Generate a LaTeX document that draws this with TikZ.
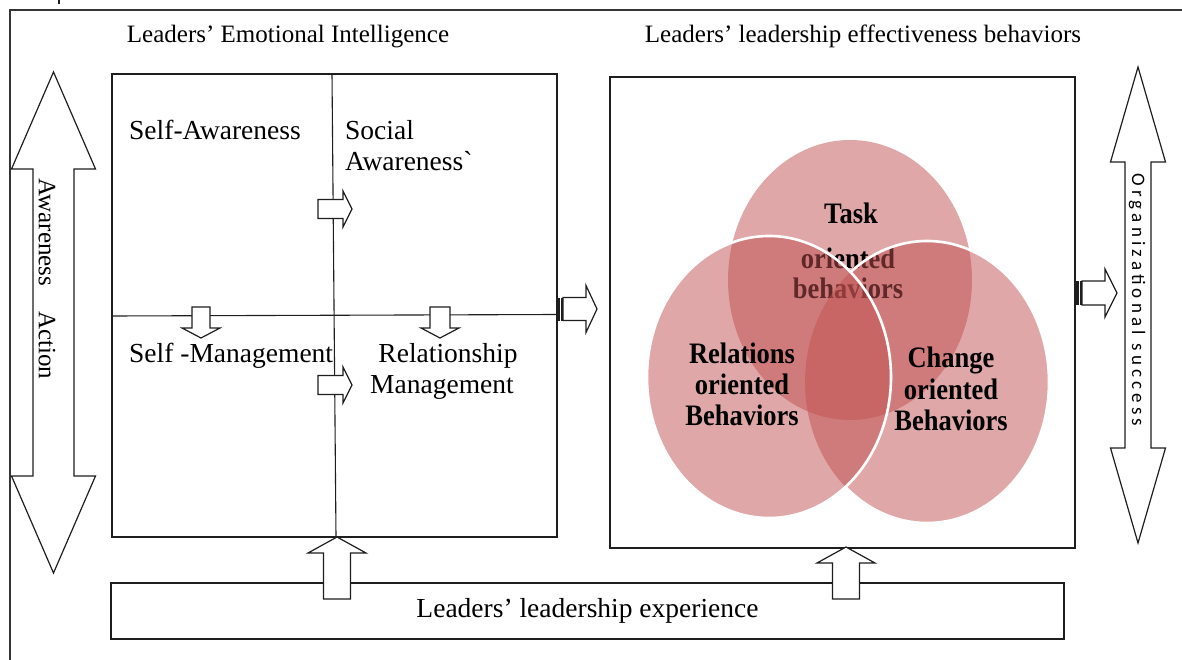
\documentclass[tikz,border=0pt]{standalone}
\usepackage{fontspec}
\setmainfont{Liberation Serif}
\newfontfamily\spacedsans[LetterSpace=22]{Carlito}
\definecolor{venn}{RGB}{192,80,80}
\definecolor{ink}{RGB}{30,30,30}
\begin{document}
\begin{tikzpicture}[x=1pt,y=-1pt,
  frameline/.style={draw=ink!90, line width=1.8pt},
  box/.style={draw=ink, line width=1.2pt, inner sep=0pt},
  divider/.style={draw=ink, line width=1.1pt},
  arrowline/.style={draw=ink, line width=1.2pt, fill=white, line join=miter},
  txt/.style={font=\fontsize{25}{30}\selectfont, inner sep=0pt},
  bigtxt/.style={font=\fontsize{27.5}{32}\selectfont, inner sep=0pt},
  venntxt/.style={font=\bfseries\fontsize{26.5}{30}\selectfont, inner sep=0pt},
  vennfill/.style={fill=venn, fill opacity=0.5},
  vennedge/.style={draw=white, line width=2.6pt},
  pics/blockarrow/.style n args={4}{code={
    \draw[arrowline] (0,-#3) -- ({#1-#2},-#3) -- ({#1-#2},-#4) -- (#1,0)
      -- ({#1-#2},#4) -- ({#1-#2},#3) -- (0,#3) -- cycle;
  }},
  pics/stripedarrow/.style n args={4}{code={
    \fill[ink] (0,-#3) rectangle (2.5,#3);
    \fill[ink] (3.5,-#3) rectangle (6,#3);
    \draw[arrowline] (6,-#3) -- ({#1-#2},-#3) -- ({#1-#2},-#4) -- (#1,0)
      -- ({#1-#2},#4) -- ({#1-#2},#3) -- (6,#3) -- cycle;
  }},
  pics/doublearrow/.style n args={4}{code={
    \draw[arrowline] (0,0) -- (#2,-#4) -- (#2,-#3) -- ({#1-#2},-#3) -- ({#1-#2},-#4)
      -- (#1,0) -- ({#1-#2},#4) -- ({#1-#2},#3) -- (#2,#3) -- (#2,#4) -- cycle;
  }}
]
\useasboundingbox (0,0) rectangle (1182,660);

% outer frame
\draw[frameline] (10,660) -- (10,10) -- (1182,10);
\draw[ink, line width=1.2pt] (59,0) -- (59,4);

% section titles
\node[txt, anchor=base] (eititle) at (288,43) {Leaders’ Emotional Intelligence};
\node[txt, anchor=base] (lebtitle) at (863,43) {Leaders’ leadership effectiveness behaviors};

% emotional intelligence quadrants
\node[box, minimum width=445, minimum height=463] (ei) at (334.5,305.5) {};
\coordinate (vtop) at (332,74);
\coordinate (vbot) at (336,537);
\coordinate (hleft) at (112,316);
\coordinate (hright) at (557,314.5);
\draw[divider] (vtop) -- (vbot);
\draw[divider] (hleft) -- (hright);

\node[bigtxt, anchor=base west] (sa) at (129,140) {Self-Awareness};
\node[bigtxt, anchor=base west] (soa1) at (345,140) {Social};
\node[bigtxt, anchor=base west] (soa2) at (345,171) {Awareness\textasciigrave};
\node[bigtxt, anchor=base west] (sm) at (129,362) {Self -Management};
\node[bigtxt, anchor=base] (rm1) at (448,362) {Relationship};
\node[bigtxt, anchor=base] (rm2) at (442,393) {Management};

% flows between quadrants
\pic (qa) at (318,209) {blockarrow={34}{9}{9.5}{18}};
\pic (qb) at (318,385) {blockarrow={34}{9}{9.5}{18}};
\pic (qc) [rotate=-90] at (201,307) {blockarrow={31}{10}{9}{19}};
\pic (qd) [rotate=-90] at (440,307) {blockarrow={31}{10}{10}{19}};

% effectiveness behaviours panel
\node[box, minimum width=465, minimum height=471] (leb) at (842.5,312.5) {};

% link from EI to behaviours, and to organizational success
\pic (eiout) at (557,309) {stripedarrow={40}{11}{11.5}{23.5}};
\pic (lebout) at (1076,293) {stripedarrow={41}{12}{12}{24}};

% experience base
\node[box, minimum width=953, minimum height=56, bigtxt] (exp) at (587.5,611)
  {Leaders’ leadership experience};
\pic (upa) [rotate=90] at (337,599) {blockarrow={62}{16}{13.5}{29}};
\pic (upb) [rotate=90] at (846,599) {blockarrow={52}{16}{13.5}{29}};

% side double arrows
\pic (awarr) [rotate=-90] at (53.5,72) {doublearrow={501}{97}{20.5}{42}};
\node[txt, rotate=-90] (awtxt) at (47,279) {Awareness\hspace{1em}Action};
\pic (osarr) [rotate=-90] at (1138,67) {doublearrow={476}{95}{13}{27.5}};
\node[font=\spacedsans\fontsize{19}{20}\selectfont, inner sep=0pt, rotate=-90] (ostxt)
  at (1137,300) {Organizational success};

% Venn diagram of behaviours
\fill[vennfill] (850,280) ellipse [x radius=122, y radius=140];
\node[venntxt, anchor=base] (task1) at (851,224) {\scalebox{1}[1.12]{Task}};
\node[venntxt, anchor=base] (task2) at (848,268) {\scalebox{1}[1.12]{oriented}};
\node[venntxt, anchor=base] (task3) at (848,298) {\scalebox{1}[1.12]{behaviors}};
\fill[vennfill] (927,382) ellipse [x radius=122, y radius=141];
\fill[vennfill] (769,377) ellipse [x radius=122, y radius=141];
\begin{scope}[even odd rule]
  \clip (600,100) rectangle (1100,560)
    (769,377) ellipse [x radius=122, y radius=141];
  \draw[vennedge] (927,382) ellipse [x radius=122, y radius=141];
\end{scope}
\draw[vennedge] (769,377) ellipse [x radius=122, y radius=141];

\node[venntxt, anchor=base] (rel1) at (742,363) {\scalebox{1}[1.12]{Relations}};
\node[venntxt, anchor=base] (rel2) at (742,394) {\scalebox{1}[1.12]{oriented}};
\node[venntxt, anchor=base] (rel3) at (742,425) {\scalebox{1}[1.12]{Behaviors}};
\node[venntxt, anchor=base] (chg1) at (951,367) {\scalebox{1}[1.12]{Change}};
\node[venntxt, anchor=base] (chg2) at (951,399) {\scalebox{1}[1.12]{oriented}};
\node[venntxt, anchor=base] (chg3) at (951,430) {\scalebox{1}[1.12]{Behaviors}};
\end{tikzpicture}
\end{document}
